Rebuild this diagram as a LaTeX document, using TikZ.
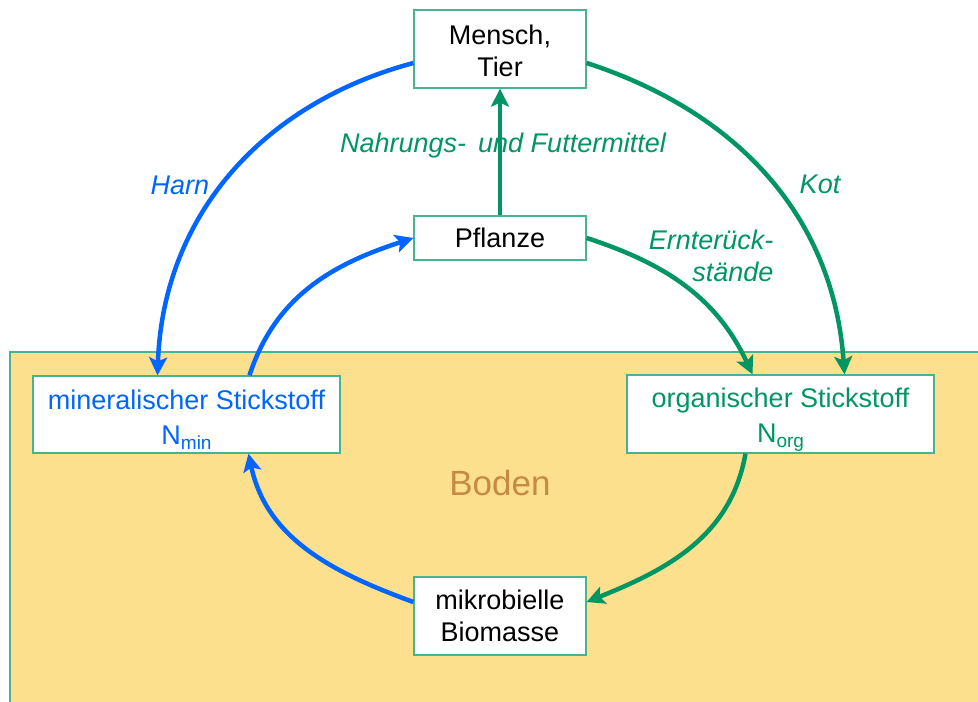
\documentclass[tikz,border=0pt]{standalone}
\usepackage{fontspec}
\setmainfont{Liberation Sans}
\usetikzlibrary{arrows.meta}
\definecolor{nblue}{RGB}{0,102,255}
\definecolor{ngreen}{RGB}{0,150,100}
\definecolor{bgreen}{RGB}{70,180,140}
\definecolor{soil}{RGB}{253,224,142}
\definecolor{boden}{RGB}{196,138,70}
\newcommand{\subtxt}[1]{\raisebox{-5pt}{\fontsize{19}{19}\selectfont #1}}
\begin{document}
\begin{tikzpicture}[x=1pt,y=1pt,
 box/.style={draw=bgreen, line width=1.3pt, fill=white, inner sep=0pt, align=center, font=\fontsize{27}{32}\selectfont},
 flow/.style={line width=4.5pt, -{Stealth[length=18pt,width=18pt,inset=4pt]}},
 lbl/.style={font=\fontsize{27}{32}\selectfont\itshape, align=right}]
\useasboundingbox (0,0) rectangle (978,702);
\fill[white] (0,0) rectangle (978,702);
% soil
\fill[soil] (10,0) rectangle (978,350);
\draw[bgreen, line width=1.3pt] (10,0) -- (10,350) -- (978,350);
\node[font=\fontsize{35}{40}\selectfont, text=boden] (boden) at (500,219) {Boden};
% boxes
\node[box, minimum width=172pt, minimum height=78pt] (M) at (500,653) {\rule{0pt}{24pt}Mensch,\\Tier};
\node[box, minimum width=172pt, minimum height=44pt] (P) at (500,464) {Pflanze};
\node[box, minimum width=307pt, minimum height=77pt, text=nblue] (N) at (186.5,287.5) {\rule{0pt}{30pt}mineralischer Stickstoff\\[3pt]N\subtxt{min}};
\node[box, minimum width=307pt, minimum height=78pt, text=ngreen] (O) at (780.5,288) {\rule{0pt}{30pt}organischer Stickstoff\\[3pt]N\subtxt{org}};
\node[box, minimum width=172pt, minimum height=78pt] (B) at (500,86) {mikrobielle\\Biomasse};
% labels
\node[lbl, text=nblue] (harn) at (180,517) {Harn};
\node[lbl, text=ngreen] (nahr) at (503,556) {Nahrungs-\, und Futtermittel};
\node[lbl, text=ngreen] (kot) at (820,518) {Kot};
\node[lbl, text=ngreen, anchor=east] (ernte) at (777,446) {Ernterück-\\stände};
% connectors
\draw[flow, nblue] ([yshift=-14pt]M.west) to[out=195, in=88] ([xshift=-29pt]N.north);
\draw[flow, ngreen] ([yshift=-14pt]M.east) to[out=-18, in=94] ([xshift=64pt]O.north);
\draw[flow, ngreen] (P.north) -- (M.south);
\draw[flow, nblue] ([xshift=63pt]N.north) to[out=72, in=198] (P.west);
\draw[flow, ngreen] (P.east) to[out=-18, in=115] ([xshift=-28pt]O.north);
\draw[flow, ngreen] ([xshift=-35pt]O.south) to[out=260, in=22] ([yshift=14pt]B.east);
\draw[flow, nblue] ([yshift=14pt]B.west) to[out=160, in=282] ([xshift=62pt]N.south);
\end{tikzpicture}
\end{document}
